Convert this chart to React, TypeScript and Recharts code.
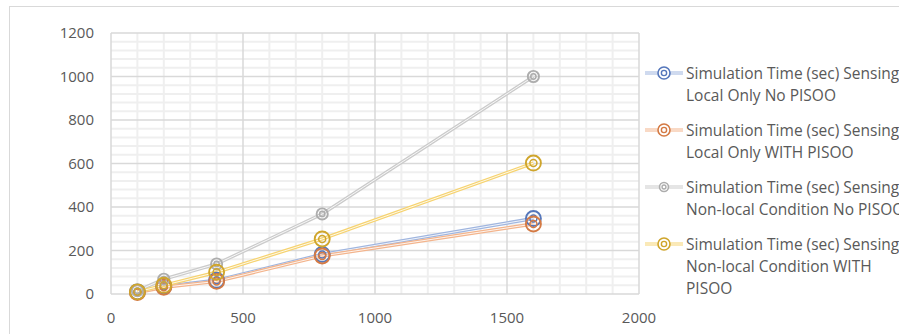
import React from "react";
import { LineChart, Line, XAxis, YAxis, ReferenceLine } from "recharts";

// Problem size (x) and simulation times in seconds for each configuration
const sizes = [100, 200, 400, 800, 1600];
const localNoPisoo = [10, 35, 63, 182, 347];
const localWithPisoo = [7, 31, 58, 175, 322];
const nonLocalNoPisoo = [15, 68, 138, 368, 1000];
const nonLocalWithPisoo = [10, 40, 100, 253, 602];

const xTicks = [0, 500, 1000, 1500, 2000];
const yTicks = [0, 200, 400, 600, 800, 1000, 1200];
const xMinor = [100, 200, 300, 400, 600, 700, 800, 900, 1100, 1200, 1300, 1400, 1600, 1700, 1800, 1900];
const yMinor = [40, 80, 120, 160, 240, 280, 320, 360, 440, 480, 520, 560, 640, 680, 720, 760, 840, 880, 920, 960, 1040, 1080, 1120, 1160];

const seriesNames = [
  ["Simulation Time (sec) Sensing", "Local Only No PISOO"],
  ["Simulation Time (sec) Sensing", "Local Only WITH PISOO"],
  ["Simulation Time (sec) Sensing", "Non-local Condition No PISOO"],
  ["Simulation Time (sec) Sensing", "Non-local Condition WITH", "PISOO"],
];

const series = [
  { key: "localNo", values: localNoPisoo, line: "#9fb5df", mark: "#5577bb", r: 7.5 },
  { key: "localWith", values: localWithPisoo, line: "#f3b48c", mark: "#d47a44", r: 7.5 },
  { key: "nonLocalNo", values: nonLocalNoPisoo, line: "#cbcbcb", mark: "#adadad", r: 5.6 },
  { key: "nonLocalWith", values: nonLocalWithPisoo, line: "#f6d370", mark: "#cfa52c", r: 7.5 },
];

const data = sizes.map((x, i) => {
  const row: Record<string, number> = { x };
  series.forEach((s) => {
    row[s.key] = s.values[i];
  });
  return row;
});

const FONT = "'Open Sans', 'Noto Sans', sans-serif";
const TEXT = "#595959";

const makeDot = (color: string, r: number) => (props: any) => {
  const { cx, cy, index } = props;
  if (cx == null || cy == null) return <g key={index} />;
  return (
    <g key={`d-${index}`}>
      <circle cx={cx} cy={cy} r={r} fill="none" stroke={color} strokeWidth={1.9} />
      <circle cx={cx} cy={cy} r={r * 0.47} fill="none" stroke={color} strokeWidth={1.5} />
    </g>
  );
};

const SeriesLegend = () => (
  <div
    style={{
      position: "absolute",
      left: 645,
      top: 62,
      fontFamily: FONT,
      fontSize: 15.5,
      color: TEXT,
      lineHeight: "22px",
    }}
  >
    {series.map((s, i) => (
      <div key={s.key} style={{ position: "relative", height: 57, whiteSpace: "nowrap" }}>
        <svg width={40} height={22} style={{ position: "absolute", left: 0, top: 0 }}>
          <line x1={0} y1={11} x2={38} y2={11} stroke={s.line} strokeWidth={3.2} />
          <line x1={0} y1={11} x2={38} y2={11} stroke="#ffffff" strokeWidth={1} />
          <circle cx={19} cy={11} r={s.r * 0.8} fill="#fff" stroke={s.mark} strokeWidth={1.6} />
          <circle cx={19} cy={11} r={s.r * 0.35} fill="none" stroke={s.mark} strokeWidth={1.4} />
        </svg>
        <div style={{ position: "absolute", left: 41, top: 0 }}>
          {seriesNames[i].map((t, j) => (
            <div key={j}>{t}</div>
          ))}
        </div>
      </div>
    ))}
  </div>
);

export default function App() {
  return (
    <div style={{ position: "absolute", left: 0, top: 0, width: 899, height: 334, background: "#fff", overflow: "hidden" }}>
      <div
        style={{
          position: "absolute",
          left: 9,
          top: 6,
          width: 920,
          height: 360,
          border: "1px solid #d9d9d9",
          boxSizing: "border-box",
        }}
      />
      <div style={{ position: "absolute", left: 0, top: 0 }}>
        <LineChart width={899} height={334} data={data} margin={{ top: 33, right: 260, bottom: 0, left: 0 }}>
          {xMinor.map((v) => (
            <ReferenceLine key={`xm${v}`} x={v} stroke="#efefef" strokeWidth={2} />
          ))}
          {yMinor.map((v) => (
            <ReferenceLine key={`ym${v}`} y={v} stroke="#efefef" strokeWidth={2} />
          ))}
          {xTicks.map((v) => (
            <ReferenceLine key={`xM${v}`} x={v} stroke="#d9d9d9" strokeWidth={1.5} />
          ))}
          {yTicks.map((v) => (
            <ReferenceLine key={`yM${v}`} y={v} stroke="#d9d9d9" strokeWidth={1.5} />
          ))}
          <XAxis
            dataKey="x"
            type="number"
            domain={[0, 2000]}
            ticks={xTicks}
            height={40}
            axisLine={false}
            tickLine={false}
            tickSize={0}
            tickMargin={18}
            tick={{ fill: TEXT, fontSize: 15, fontFamily: FONT }}
          />
          <YAxis
            type="number"
            domain={[0, 1200]}
            ticks={yTicks}
            width={111}
            axisLine={false}
            tickLine={false}
            tickSize={0}
            tickMargin={17}
            tick={{ fill: TEXT, fontSize: 15, fontFamily: FONT }}
          />
          {series.map((s) => [
            <Line
              key={`${s.key}-outer`}
              dataKey={s.key}
              stroke={s.line}
              strokeWidth={3.4}
              dot={false}
              activeDot={false}
              isAnimationActive={false}
            />,
            <Line
              key={`${s.key}-inner`}
              dataKey={s.key}
              stroke="#ffffff"
              strokeOpacity={0.85}
              strokeWidth={1}
              dot={makeDot(s.mark, s.r)}
              activeDot={false}
              isAnimationActive={false}
            />,
          ])}
        </LineChart>
      </div>
      <SeriesLegend />
    </div>
  );
}
